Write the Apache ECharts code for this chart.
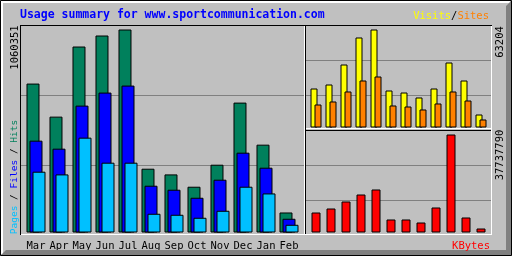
<!DOCTYPE html>
<html><head><meta charset="utf-8">
<script src="https://cdn.jsdelivr.net/npm/echarts@6/dist/echarts.min.js"></script>
<style>html,body{margin:0;padding:0;background:#c0c0c0}#c{width:512px;height:256px}</style>
</head><body><div id="c"></div>
<script>
const months = ['Mar','Apr','May','Jun','Jul','Aug','Sep','Oct','Nov','Dec','Jan','Feb'];
const hits   = [777900, 605200, 971400, 1029000, 1060351, 333200, 303400, 239100, 354100, 678500, 458800, 104600];
const files  = [479700, 437800, 662800, 730800, 767400, 244300, 223400, 181500, 275700, 416900, 338400, 71700];
const pages  = [317500, 303400, 495400, 364600, 364600, 97800, 92600, 76900, 113500, 239100, 204000, 40300];
const visits = [25150, 27730, 40630, 58050, 63204, 23860, 22570, 19350, 25150, 41920, 30310, 8380];
const sites  = [14830, 16770, 23220, 30310, 32890, 14190, 13540, 11610, 15480, 23220, 17410, 5160];
const kbytes = [7700000, 9240000, 11940000, 14630000, 16560000, 5010000, 5010000, 3850000, 9630000, 37737790, 5780000, 1540000];

const maxHits = Math.max(...hits), maxVisits = Math.max(...visits), maxK = Math.max(...kbytes);
const MONO = '"DejaVu Sans Mono", "Liberation Mono", monospace';
const C = {hits:'#00805c', files:'#0000ff', pages:'#00c0ff', visits:'#ffff00', sites:'#ff8000', kb:'#ff0000', grid:'#808080'};

const chart = echarts.init(document.getElementById('c'), null, {renderer:'canvas'});

function decoY(idx){
  return {type:'value', gridIndex:idx, min:0, max:3, interval:1,
    axisLine:{show:false}, axisTick:{show:false}, axisLabel:{show:false},
    splitLine:{show:true, showMinLine:false, showMaxLine:false, lineStyle:{color:C.grid, width:1}}};
}
function decoX(idx){ return {type:'value', gridIndex:idx, show:false, min:0, max:1}; }
function hiddenY(idx, max){
  return {type:'value', gridIndex:idx, min:0, max:max, show:false, splitLine:{show:false}};
}
function catX(idx, showLabels){
  return {type:'category', gridIndex:idx, data:months, boundaryGap:true,
    axisLine:{show:false}, axisTick:{show:false}, splitLine:{show:false},
    axisLabel:{show:showLabels, color:'#000', fontFamily:MONO, fontSize:10.5, margin:8, interval:0}};
}
const border = {borderColor:'#000', borderWidth:1};

const option = {
  animation:false,
  backgroundColor:'#c0c0c0',
  grid:[
    {left:21, top:25.5, width:283, height:209},          // 0 deco main
    {left:306, top:25, width:185, height:105},           // 1 deco right top
    {left:306, top:130, width:185, height:105},          // 2 deco right bottom
    {left:24.5, top:29.5, width:276, height:203},        // 3 main data
    {left:308.5, top:29.5, width:180, height:98},        // 4 visits/sites
    {left:308.5, top:134.5, width:180, height:98}        // 5 kbytes
  ],
  xAxis:[decoX(0), decoX(1), decoX(2), catX(3,true), catX(4,false), catX(5,false)],
  yAxis:[decoY(0), decoY(1), decoY(2), hiddenY(3,maxHits), hiddenY(4,maxVisits), hiddenY(5,maxK)],
  series:[
    {type:'bar', name:'Hits', xAxisIndex:3, yAxisIndex:3, data:hits, barWidth:13, barGap:'-76.92%', itemStyle:Object.assign({color:C.hits},border)},
    {type:'bar', name:'Files', xAxisIndex:3, yAxisIndex:3, data:files, barWidth:13, barGap:'-76.92%', itemStyle:Object.assign({color:C.files},border)},
    {type:'bar', name:'Pages', xAxisIndex:3, yAxisIndex:3, data:pages, barWidth:13, barGap:'-76.92%', itemStyle:Object.assign({color:C.pages},border)},
    {type:'bar', name:'Visits', xAxisIndex:4, yAxisIndex:4, data:visits, barWidth:7, barGap:'-42.857%', itemStyle:Object.assign({color:C.visits},border)},
    {type:'bar', name:'Sites', xAxisIndex:4, yAxisIndex:4, data:sites, barWidth:7, barGap:'-42.857%', itemStyle:Object.assign({color:C.sites},border)},
    {type:'bar', name:'KBytes', xAxisIndex:5, yAxisIndex:5, data:kbytes, barWidth:9, itemStyle:Object.assign({color:C.kb},border)}
  ],
  graphic:[
    // outer frame
    {type:'rect', silent:true, z:50, shape:{x:0.5,y:0.5,width:511,height:255}, style:{fill:null, stroke:'#000', lineWidth:1}},
    {type:'rect', silent:true, z:50, shape:{x:1,y:1,width:509,height:2}, style:{fill:'#fff'}},
    {type:'rect', silent:true, z:50, shape:{x:1,y:1,width:2,height:253}, style:{fill:'#fff'}},
    {type:'polygon', silent:true, z:50, shape:{points:[[1,255],[511,255],[511,1],[506,6],[506,250],[6,250]]}, style:{fill:'#808080'}},
    // panel lines
    {type:'line', silent:true, z:50, shape:{x1:20,y1:25.5,x2:492,y2:25.5}, style:{stroke:'#000',lineWidth:1}},
    {type:'line', silent:true, z:50, shape:{x1:20.5,y1:25,x2:20.5,y2:235}, style:{stroke:'#000',lineWidth:1}},
    {type:'line', silent:true, z:50, shape:{x1:21,y1:234.5,x2:492,y2:234.5}, style:{stroke:'#fff',lineWidth:1}},
    {type:'line', silent:true, z:50, shape:{x1:491.5,y1:26,x2:491.5,y2:235}, style:{stroke:'#fff',lineWidth:1}},
    {type:'line', silent:true, z:50, shape:{x1:304.5,y1:26,x2:304.5,y2:234}, style:{stroke:'#fff',lineWidth:1}},
    {type:'line', silent:true, z:50, shape:{x1:305.5,y1:26,x2:305.5,y2:234}, style:{stroke:'#000',lineWidth:1}},
    {type:'line', silent:true, z:50, shape:{x1:306,y1:128.5,x2:491,y2:128.5}, style:{stroke:'#fff',lineWidth:1}},
    {type:'line', silent:true, z:50, shape:{x1:306,y1:130.5,x2:491,y2:130.5}, style:{stroke:'#000',lineWidth:1}},
    // texts
    {type:'text', silent:true, z:60, x:20, y:15, style:{text:'Usage summary for www.sportcommunication.com', fontFamily:MONO, fontSize:11.5, fontWeight:'bold', fill:'#0000ff', verticalAlign:'middle', align:'left'}},
    {type:'text', silent:true, z:60, x:489, y:16, style:{text:'{v|Visits}/{s|Sites}', fontFamily:MONO, fontSize:10.5, fill:'#000', verticalAlign:'middle', align:'right',
      rich:{v:{fill:C.visits, fontFamily:MONO, fontSize:10.5}, s:{fill:C.sites, fontFamily:MONO, fontSize:10.5}}}},
    {type:'text', silent:true, z:60, x:490, y:246, style:{text:'KBytes', fontFamily:MONO, fontSize:10.5, fill:C.kb, verticalAlign:'middle', align:'right'}},
    {type:'text', silent:true, z:60, x:15, y:47.5, rotation:Math.PI/2, style:{text:String(maxHits), fontFamily:MONO, fontSize:10.5, fill:'#000', verticalAlign:'middle', align:'center'}},
    {type:'text', silent:true, z:60, x:500, y:42, rotation:Math.PI/2, style:{text:String(maxVisits), fontFamily:MONO, fontSize:10.5, fill:'#000', verticalAlign:'middle', align:'center'}},
    {type:'text', silent:true, z:60, x:500, y:155, rotation:Math.PI/2, style:{text:String(maxK), fontFamily:MONO, fontSize:10.5, fill:'#000', verticalAlign:'middle', align:'center'}},
    {type:'text', silent:true, z:60, x:15, y:177, rotation:Math.PI/2, style:{text:'{p|Pages} / {f|Files} / {h|Hits}', fontFamily:MONO, fontSize:9.5, fill:'#000', verticalAlign:'middle', align:'center',
      rich:{p:{fill:C.pages, fontFamily:MONO, fontSize:9.5}, f:{fill:C.files, fontFamily:MONO, fontSize:9.5}, h:{fill:C.hits, fontFamily:MONO, fontSize:9.5}}}}
  ]
};
chart.setOption(option);
</script>
</body></html>
